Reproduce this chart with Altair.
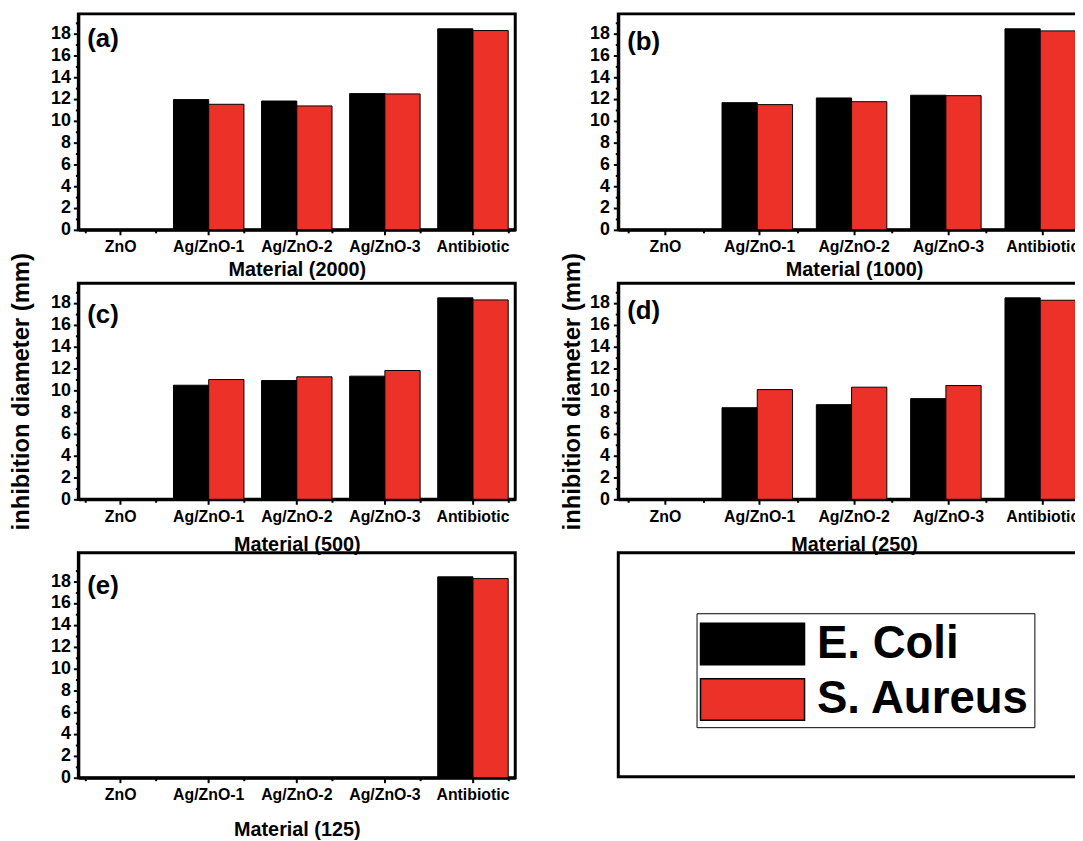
import altair as alt
import pandas as pd

FONT = "Liberation Sans"

materials = ["ZnO", "Ag/ZnO-1", "Ag/ZnO-2", "Ag/ZnO-3", "Antibiotic"]
series = ["E. Coli", "S. Aureus"]
colors = ["#000000", "#ec3228"]

ecoli_2000 = [0, 11.94, 11.81, 12.49, 18.43]
saureus_2000 = [0, 11.51, 11.36, 12.46, 18.27]
ecoli_1000 = [0, 11.66, 12.09, 12.34, 18.43]
saureus_1000 = [0, 11.48, 11.75, 12.30, 18.24]
ecoli_500 = [0, 10.46, 10.89, 11.29, 18.47]
saureus_500 = [0, 10.98, 11.23, 11.81, 18.28]
ecoli_250 = [0, 8.40, 8.68, 9.23, 18.47]
saureus_250 = [0, 10.06, 10.28, 10.43, 18.25]
ecoli_125 = [0, 0, 0, 0, 18.40]
saureus_125 = [0, 0, 0, 0, 18.24]

y_major = [0, 2, 4, 6, 8, 10, 12, 14, 16, 18]
y_minor = [1, 3, 5, 7, 9, 11, 13, 15, 17, 19]
y_title = "inhibition diameter (mm)"

color_scale = alt.Scale(domain=series, range=colors)

legend_def = alt.Legend(
    title=None, orient="none", legendX=79, legendY=61, direction="vertical",
    symbolType="M-2,-0.8L2,-0.8L2,0.8L-2,0.8Z", symbolSize=2756.25, symbolOpacity=1,
    symbolStrokeColor="black", symbolStrokeWidth=1.5, symbolOffset=25.5,
    labelFont=FONT, labelFontSize=46, labelFontWeight="bold", labelColor="black",
    labelOffset=38, labelLimit=500, rowPadding=5, padding=4, strokeColor="black",
)


def panel(ecoli, saureus, letter, conc, w, h, ymax, ytitle, ytitle_pad, xtitle_pad,
          label_y, ylab_pad, pad_outer):
    df = pd.DataFrame({
        "material": materials * 2,
        "series": [series[0]] * 5 + [series[1]] * 5,
        "value": ecoli + saureus,
    })
    xsc = alt.Scale(domain=materials, paddingInner=0.2, paddingOuter=pad_outer)
    ysc = alt.Scale(domain=[0, ymax], nice=False, zero=True)
    base = alt.Chart(df)
    yaxis_kw = dict(values=y_major, orient="left", labelFontSize=18, tickSize=5,
                    labelPadding=ylab_pad, titleFontSize=24, titlePadding=ytitle_pad)
    if ytitle:
        yaxis = alt.Axis(title=y_title, **yaxis_kw)
    else:
        yaxis = alt.Axis(title=None, **yaxis_kw)
    bars = base.mark_bar(stroke="black", strokeWidth=1).encode(
        x=alt.X("material:N", scale=xsc,
                axis=alt.Axis(title=f"Material ({conc})", orient="bottom", labelAngle=0,
                              labelFontSize=16, tickSize=5, labelPadding=4,
                              titleFontSize=20, titlePadding=xtitle_pad)),
        xOffset=alt.XOffset("series:N", sort=series),
        y=alt.Y("value:Q", scale=ysc, axis=yaxis),
        color=alt.Color("series:N", scale=color_scale, legend=None),
    )
    minor = base.mark_bar(opacity=0).encode(
        x=alt.X("material:N", scale=xsc,
                axis=alt.Axis(orient="bottom", labels=False, domain=False, tickBand="extent",
                              tickSize=3, title=None)),
        y=alt.Y("value:Q", scale=ysc,
                axis=alt.Axis(orient="left", values=y_minor, labels=False, domain=False,
                              tickSize=3, title=None)),
    )
    lbl = alt.Chart(pd.DataFrame({"t": [letter]})).mark_text(
        align="left", baseline="alphabetic", font=FONT, fontWeight="bold", fontSize=26, color="black"
    ).encode(text="t:N", x=alt.value(9), y=alt.value(label_y))
    return alt.layer(bars, minor, lbl).resolve_axis(x="independent", y="independent").properties(
        width=w, height=h)


LW, RW = 441, 476
H = 218
pa = panel(ecoli_2000, saureus_2000, "(a)", 2000, LW, H, 19.8, False, 17, 5, 33, 3, 0.08)
pb = panel(ecoli_1000, saureus_1000, "(b)", 1000, RW, H, 19.8, False, 5, 5, 36, 4, 0.1)
pc = panel(ecoli_500, saureus_500, "(c)", 500, LW, H, 19.8, True, 17, 11, 40, 3, 0.08)
pd_ = panel(ecoli_250, saureus_250, "(d)", 250, RW, H, 19.8, True, 5, 11, 36, 4, 0.1)
pe = panel(ecoli_125, saureus_125, "(e)", 125, LW, 227, 20.6, False, 17, 17, 42, 3, 0.08)

leg = alt.Chart(pd.DataFrame({"series": series})).mark_rect(opacity=0).encode(
    x=alt.value(0), x2=alt.value(1), y=alt.value(0), y2=alt.value(1),
    color=alt.Color("series:N", scale=color_scale, legend=legend_def),
).properties(width=RW, height=226)

chart = alt.concat(
    pa, pb, pc, pd_, pe, leg, columns=2,
    spacing={"row": 54, "column": 104}, align="each", bounds="flush",
).resolve_legend(color="independent").properties(
    padding={"left": 0, "top": -186, "right": -17, "bottom": 0}
).configure_view(
    stroke="black", strokeWidth=3
).configure_axis(
    labelFont=FONT, titleFont=FONT, labelFontWeight="bold", titleFontWeight="bold",
    labelColor="black", titleColor="black", domainColor="black", domainWidth=3,
    tickColor="black", tickWidth=2, grid=False,
)

chart.save("out.html", embed_options={"renderer": "svg", "actions": False})
